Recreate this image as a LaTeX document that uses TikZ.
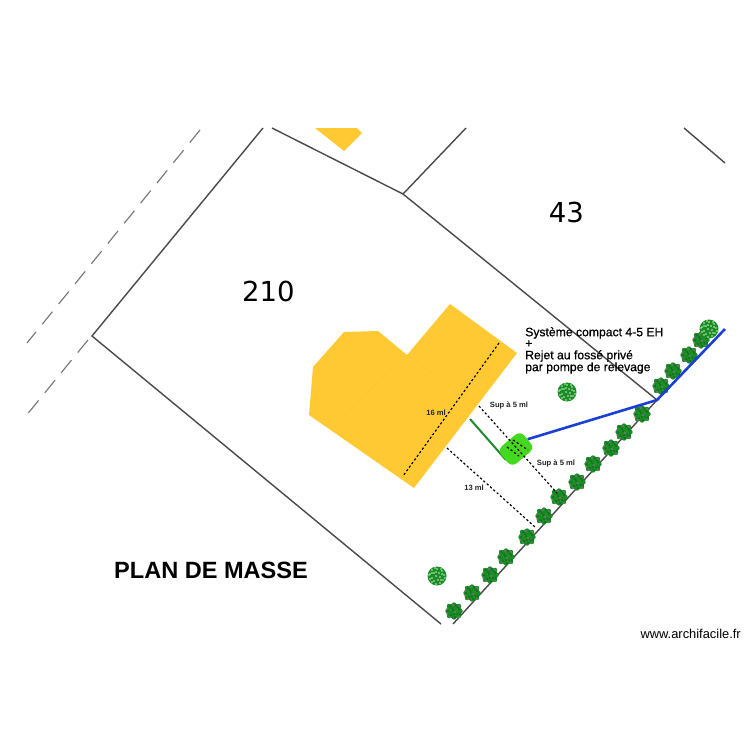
\documentclass[tikz,border=0pt]{standalone}
\usepackage{fontspec}
\setmainfont{Liberation Sans}
\newfontfamily\dejavu{DejaVu Sans}
\newfontfamily\fakeb[FakeBold=0.6]{Liberation Sans}
\definecolor{roof}{HTML}{FFC933}
\definecolor{roofline}{HTML}{F7C538}
\definecolor{parcel}{HTML}{4A4A4A}
\definecolor{dashgrey}{HTML}{7A7A7A}
\definecolor{pipeblue}{HTML}{1A3FD6}
\definecolor{pipegreen}{HTML}{1E8A2E}
\definecolor{tank}{HTML}{44D81E}
\definecolor{treedark}{HTML}{1C8A26}
\definecolor{treedeep}{HTML}{0F6A1A}
\definecolor{treepink}{HTML}{A868A8}
\tikzset{
  parcelline/.style={draw=parcel,line width=1.2pt},
  roaddash/.style={draw=dashgrey,line width=1pt,dash pattern=on 13.8pt off 8.4pt},
  dimline/.style={draw=black,line width=1pt,dash pattern=on 1.9pt off 1.9pt},
  pipeb/.style={draw=pipeblue,line width=2.2pt},
  pipeg/.style={draw=pipegreen,line width=1.7pt},
  dimlabel/.style={font=\bfseries\fontsize{6.5}{8}\selectfont,inner sep=0pt,text=black!85},
  parcelnum/.style={font=\dejavu\fontsize{23.5}{26}\selectfont,inner sep=0pt},
  darktree/.pic={
    \fill[treedark] (0,0) circle (7.6);
    \foreach \a/\b in {-5/-5,0/-6.5,5/-5,6.5/0,5/5,0/6.5,-5/5,-6.5/0}
      \fill[treedark] (\a,\b) circle (2.2);
    \foreach \a/\b in {-4/-5,2/-6,5/-2,-6/0,-1/-1,3/3,-3/4,1/6,6/3,-2/-3,0/3,4/-4}
      \fill[treedeep] (\a,\b) circle (1);
    \foreach \a/\b in {-7/-2,-4/6,5/-5,1/1,5/6,-1/-6,-7/3}
      \fill[treepink] (\a,\b) circle (0.85);
    \foreach \a/\b in {-3/-1,2/4,3/-1}
      \fill[green!60!treedark] (\a,\b) circle (0.7);
  },
  lighttree/.pic={
    \fill[treedark] (0,0) circle (9.5);
    \foreach \a/\b in {-5/-6,0/-7,5/-5,-7/-2,-3/-3,2/-3,7/-1,-5/2,-1/0,3/1,6/4,-3/5,1/4,3/7,-1/8,-7/3,-8/-1,4/-7,-2/-8,8/2,-5/-3,5/-2,-1/-4,4/4,-5/6}
      \fill[white!70!green] (\a,\b) circle (0.85);
    \fill[treepink!60!treedeep] (1,2) circle (0.8);
  },
}
\begin{document}
\begin{tikzpicture}[x=0.03cm,y=-0.03cm]
\useasboundingbox (0,0) rectangle (750,750);
\fill[white] (0,0) rectangle (750,750);
% parcel corners
\coordinate (nw) at (263,128);
\coordinate (w) at (92,336);
\coordinate (sw) at (441,624);
\coordinate (nn) at (272,128);
\coordinate (mid) at (403,194);
\coordinate (n43) at (466,128);
\coordinate (se) at (657,400);
\coordinate (s) at (453,624);
\coordinate (ne) at (725,329);
\coordinate (a43) at (684,128);
\coordinate (b43) at (725,163);
\draw[parcelline] (nw) -- (w) -- (sw);
\draw[parcelline] (nn) -- (mid) -- (n43);
\draw[parcelline] (mid) -- (se) -- (s);
\draw[parcelline] (a43) -- (b43);
% road
\coordinate (r1) at (200,130);
\coordinate (r2) at (27,343);
\coordinate (r3) at (88,340);
\coordinate (r4) at (25,417);
\draw[roaddash] (r1) -- (r2);
\draw[roaddash] (r3) -- (r4);
% buildings
\fill[roof] (315,128) -- (357,128) -- (362,133) -- (344,151) -- cycle;
\fill[roof] (450,304) -- (517,353) -- (414,488) -- (309,415) -- (313,367) -- (344,332) -- (378,331) -- (407,355) -- cycle;
\draw[roofline,line width=0.4pt] (333,425) -- (407,355) -- (470,402);
% trees
\foreach \x/\y in {454/611,472/593,490/575,506/557,527/537,544/516,559/497,577/482,593/464,611/448,624/432,642/414,661/386,673/371,689/355,701/340}
  \pic at (\x,\y) {darktree};
\foreach \x/\y in {709/329,567/392,437/576}
  \pic at (\x,\y) {lighttree};
% dimension lines
\coordinate (d1a) at (499,343);
\coordinate (d1b) at (403,476);
\coordinate (d2a) at (447,448);
\coordinate (d2b) at (535,527);
\coordinate (d3a) at (479,406);
\coordinate (d3b) at (557,493);
\draw[dimline] (d1a) -- (d1b);
\draw[dimline] (d2a) -- (d2b);
% tank and pipes
\coordinate (gp) at (470,419);
\coordinate (ge) at (506,460);
\draw[pipeg] (gp) -- (ge);
\node[draw=none,fill=tank,rounded corners=5.5pt,minimum width=0.9cm,minimum height=0.68cm,rotate=40,inner sep=0pt] (tankbox) at (516,449) {};
\draw[dimline] (d3a) -- (d3b);
\draw[dimline] (507,447) -- (519,456);
\draw[dimline] (513,440) -- (528,450);
\draw[pipeb,line join=round] (ne) -- (se) -- (tankbox.east);
% labels
\node[parcelnum] (n210) at (268.5,291) {210};
\node[parcelnum] (n43) at (566.5,212) {43};
\node[anchor=west,inner sep=0pt,font=\fakeb\fontsize{10.4}{12}\selectfont] (t1) at (525,333) {Système compact 4-5 EH};
\node[anchor=west,inner sep=0pt,font=\fakeb\fontsize{10.4}{12}\selectfont] (t2) at (525,344) {+};
\node[anchor=west,inner sep=0pt,font=\fakeb\fontsize{10.4}{12}\selectfont] (t3) at (525,356) {Rejet au fossé privé};
\node[anchor=west,inner sep=0pt,font=\fakeb\fontsize{10.4}{12}\selectfont] (t4) at (525,368) {par pompe de relevage};
\node[dimlabel] (l16) at (436,413) {16 ml};
\node[dimlabel] (l5a) at (509,405) {Sup à 5 ml};
\node[dimlabel] (l5b) at (556,463) {Sup à 5 ml};
\node[dimlabel] (l13) at (474,488) {13 ml};
\node[inner sep=0pt,font=\bfseries\fontsize{20.1}{22}\selectfont] (title) at (211,570) {PLAN DE MASSE};
\node[anchor=east,inner sep=0pt,font=\fontsize{11}{12}\selectfont] (wm) at (741,634) {www.archifacile.fr};
\end{tikzpicture}
\end{document}
